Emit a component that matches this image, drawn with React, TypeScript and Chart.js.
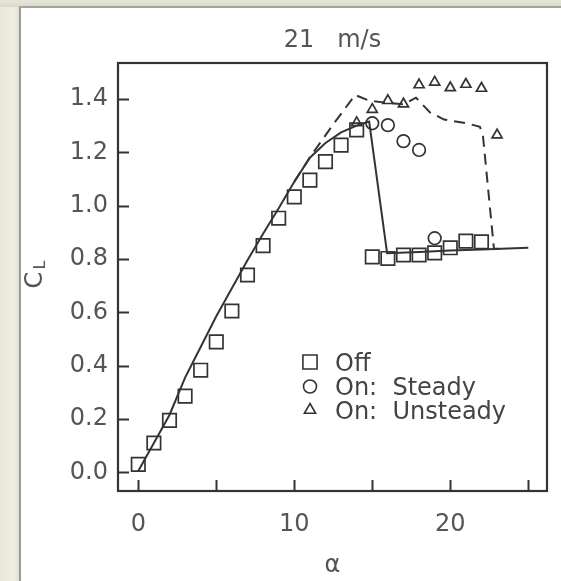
import React, { useEffect, useRef } from "react";
import { Chart, registerables } from "chart.js";
import { drawPoint } from "chart.js/helpers";

Chart.register(...registerables);

// ---- data ----
const titleText = "21   m/s";
const xTitle = "α";
const yTitleMain = "C";
const yTitleSub = "L";

const xTicks = [0, 5, 10, 15, 20, 25];
const xTickLabels = ["0", "", "10", "", "20", ""];
const yTicks = [0, 0.2, 0.4, 0.6, 0.8, 1.0, 1.2, 1.4];
const yTickLabels = ["0.0", "0.2", "0.4", "0.6", "0.8", "1.0", "1.2", "1.4"];

const legendLabels = ["Off", "On:  Steady", "On:  Unsteady"];

// measured: Off
const offAlpha = [0, 1, 2, 3, 4, 5, 6, 7, 8, 9, 10, 11, 12, 13, 14, 15, 16, 17, 18, 19, 20, 21, 22];
const offCL = [0.03, 0.11, 0.195, 0.286, 0.383, 0.489, 0.605, 0.74, 0.85, 0.953, 1.033, 1.096, 1.165, 1.227, 1.284, 0.808, 0.802, 0.815, 0.815, 0.823, 0.842, 0.867, 0.864];

// measured: On steady
const steadyAlpha = [15, 16, 17, 18, 19];
const steadyCL = [1.309, 1.302, 1.242, 1.209, 0.878];

// measured: On unsteady
const unsteadyAlpha = [14, 15, 16, 17, 18, 19, 20, 21, 22, 23];
const unsteadyCL = [1.311, 1.361, 1.394, 1.381, 1.453, 1.463, 1.442, 1.455, 1.44, 1.265];

// computed: solid line (off)
const solidAlpha = [0, 1, 2, 3, 4, 5, 6, 7, 8, 9, 10, 11, 12, 13, 14, 14.8, 15.95, 18, 20, 22, 25];
const solidCL = [0.005, 0.11, 0.215, 0.355, 0.47, 0.585, 0.69, 0.795, 0.895, 0.99, 1.09, 1.18, 1.235, 1.275, 1.30, 1.315, 0.822, 0.826, 0.832, 0.836, 0.842];

// computed: dashed line (on)
const dashAlpha = [10, 11.1, 12.5, 13.9, 14.8, 16, 17, 17.8, 18.7, 19.6, 21.05, 21.9, 22.1, 22.8, 23.5];
const dashCL = [1.09, 1.19, 1.305, 1.415, 1.394, 1.385, 1.38, 1.405, 1.35, 1.323, 1.309, 1.296, 1.259, 0.838, 0.839];

const toXY = (xs: number[], ys: number[]) => xs.map((x, i) => ({ x, y: ys[i] }));

const INK = "#333333";
const TEXT = "#555555";
const FONT = "DejaVu Sans";

const decorPlugin = {
  id: "decor",
  afterDatasetsDraw(chart: any) {
    const { ctx, chartArea, scales } = chart;
    const { left, right, top, bottom } = chartArea;
    const xs = scales.x;
    const ys = scales.y;
    ctx.save();
    ctx.strokeStyle = "#333";
    ctx.lineWidth = 2;
    ctx.beginPath();
    xs.ticks.forEach((t: any) => {
      const px = Math.round(xs.getPixelForValue(t.value)) + 0.5;
      ctx.moveTo(px, bottom);
      ctx.lineTo(px, bottom - 11);
    });
    ys.ticks.forEach((t: any) => {
      const py = Math.round(ys.getPixelForValue(t.value)) + 0.5;
      ctx.moveTo(left, py);
      ctx.lineTo(left + 11, py);
    });
    ctx.stroke();
    ctx.lineWidth = 2.2;
    ctx.strokeRect(left, top, right - left, bottom - top);

    // title centred over the plot box
    ctx.fillStyle = TEXT;
    ctx.font = `24px '${FONT}'`;
    ctx.textAlign = "center";
    ctx.textBaseline = "middle";
    ctx.fillText(titleText, (left + right) / 2, 41);

    // y-axis title with subscript
    ctx.translate(36, 280);
    ctx.rotate(-Math.PI / 2);
    ctx.textAlign = "center";
    ctx.textBaseline = "middle";
    ctx.font = `24px '${FONT}'`;
    ctx.fillText(yTitleMain, 0, 0);
    ctx.font = `16px '${FONT}'`;
    ctx.fillText(yTitleSub, 15, 5);
    ctx.setTransform(1, 0, 0, 1, 0, 0);

    // legend
    const styles = ["rect", "circle", "triangle"];
    const radii = [10, 6.5, 6.5];
    const rows = [362, 386.5, 410];
    const baselines = [370.5, 395, 418.5];
    ctx.strokeStyle = INK;
    ctx.lineWidth = 1.6;
    ctx.fillStyle = "rgba(0,0,0,0)";
    styles.forEach((s, i) => {
      drawPoint(ctx, { pointStyle: s, radius: radii[i], rotation: 0, borderWidth: 1.6 } as any, 310, rows[i]);
    });
    ctx.fillStyle = "#444";
    ctx.font = `24px '${FONT}'`;
    ctx.textAlign = "left";
    ctx.textBaseline = "alphabetic";
    legendLabels.forEach((l, i) => ctx.fillText(l, 335, baselines[i]));
    ctx.restore();
  },
};

export default function App() {
  const ref = useRef<HTMLCanvasElement>(null);
  useEffect(() => {
    if (!ref.current) return;
    const markerBase = {
      showLine: false,
      backgroundColor: "rgba(0,0,0,0)",
      borderColor: INK,
      pointBorderColor: INK,
      pointBackgroundColor: "rgba(0,0,0,0)",
      pointBorderWidth: 1.7,
    };
    const chart = new Chart(ref.current, {
      type: "scatter",
      data: {
        datasets: [
          { ...markerBase, label: legendLabels[0], data: toXY(offAlpha, offCL), pointStyle: "rect", pointRadius: 9.5 },
          { ...markerBase, label: legendLabels[1], data: toXY(steadyAlpha, steadyCL), pointStyle: "circle", pointRadius: 6.3 },
          { ...markerBase, label: legendLabels[2], data: toXY(unsteadyAlpha, unsteadyCL), pointStyle: "triangle", pointRadius: 5.8 },
          {
            label: "computed off",
            data: toXY(solidAlpha, solidCL),
            showLine: true,
            pointRadius: 0,
            borderColor: INK,
            borderWidth: 2,
            tension: 0,
          },
          {
            label: "computed on",
            data: toXY(dashAlpha, dashCL),
            showLine: true,
            pointRadius: 0,
            borderColor: INK,
            borderWidth: 2,
            borderDash: [11, 7],
            tension: 0,
          },
        ],
      } as any,
      options: {
        responsive: false,
        animation: false,
        devicePixelRatio: 1,
        layout: { padding: { left: 0, right: 14, top: 63, bottom: 0 } },
        plugins: {
          legend: { display: false },
          tooltip: { enabled: false },
          title: { display: false },
        },
        scales: {
          x: {
            type: "linear",
            min: -1.3,
            max: 26.2,
            grid: { display: false, drawTicks: false },
            border: { display: false },
            afterBuildTicks: (s: any) => {
              s.ticks = xTicks.map((v) => ({ value: v }));
            },
            afterFit: (s: any) => {
              s.height = 90;
            },
            ticks: {
              autoSkip: false,
              maxRotation: 0,
              padding: 19,
              color: TEXT,
              font: { family: FONT, size: 24 },
              callback: (_v: any, i: number) => xTickLabels[i],
            },
            title: {
              display: true,
              text: xTitle,
              color: TEXT,
              font: { family: FONT, size: 24 },
              padding: { top: 0, bottom: 1 },
            },
          },
          y: {
            type: "linear",
            min: -0.07,
            max: 1.535,
            grid: { display: false, drawTicks: false },
            border: { display: false },
            afterBuildTicks: (s: any) => {
              s.ticks = yTicks.map((v) => ({ value: v }));
            },
            afterFit: (s: any) => {
              s.width = 118;
            },
            ticks: {
              autoSkip: false,
              padding: 10,
              color: TEXT,
              font: { family: FONT, size: 24 },
              callback: (_v: any, i: number) => yTickLabels[i],
            },
          },
        },
      } as any,
      plugins: [decorPlugin],
    });
    return () => chart.destroy();
  }, []);

  return (
    <div
      style={{
        position: "fixed",
        left: 0,
        top: 0,
        width: 561,
        height: 581,
        background: "linear-gradient(90deg, #e9e8da 0px, #efeee3 14px, #e3e2d6 18px)",
        overflow: "hidden",
      }}
    >
      <div
        style={{
          position: "absolute",
          left: 0,
          top: 0,
          width: 561,
          height: 7,
          background: "linear-gradient(180deg, #e7e6d8, #d9d8cc)",
        }}
      />
      <div
        style={{
          position: "absolute",
          left: 19,
          top: 6,
          width: 542,
          height: 575,
          background: "#ffffff",
          borderLeft: "2px solid #9c9c96",
          borderTop: "2px solid #a5a5a0",
          boxSizing: "border-box",
        }}
      />
      <canvas ref={ref} width={561} height={581} style={{ position: "absolute", left: 0, top: 0 }} />
    </div>
  );
}
